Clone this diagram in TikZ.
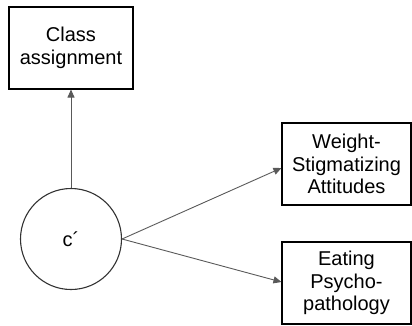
\documentclass[tikz,border=0pt]{standalone}
\usepackage{fontspec}
\setmainfont{Liberation Sans}
\usetikzlibrary{arrows.meta}
\tikzset{
  outbox/.style={draw=black, line width=1.1pt, align=center, inner sep=0pt,
    font=\fontsize{20}{22.5}\selectfont},
  latent/.style={draw=black!80, circle, line width=1.1pt, minimum size=101pt,
    inner sep=0pt, font=\fontsize{20}{22.5}\selectfont},
  path/.style={draw=black!65, line width=0.9pt, -{Triangle[length=8pt,width=7pt]}}
}
\begin{document}
\begin{tikzpicture}[x=1pt,y=-1pt]
\useasboundingbox (0,0) rectangle (412,325);
% class node and outcomes
\node[latent] (c) at (71,239) {c\char"00B4};
\node[outbox, minimum width=124pt, minimum height=82pt] (cls) at (71,48) {Class\\assignment};
\node[outbox, minimum width=129pt, minimum height=82pt] (wsa) at (346.5,164) {Weight-\\Stigmatizing\\Attitudes};
\node[outbox, minimum width=129pt, minimum height=82pt] (ep) at (346.5,283) {Eating\\Psycho-\\pathology};
% regressions
\draw[path] (c) -- (cls);
\draw[path] (c.east) -- ([yshift=-4pt]wsa.west);
\draw[path] (c.east) -- ([yshift=1pt]ep.west);
\end{tikzpicture}
\end{document}
